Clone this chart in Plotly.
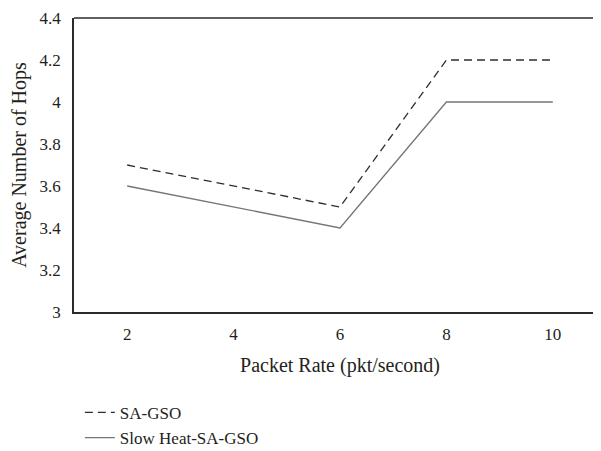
import plotly.graph_objects as go

packet_rate = [2, 4, 6, 8, 10]
sa_gso = [3.7, 3.6, 3.5, 4.2, 4.2]
slow_heat_sa_gso = [3.6, 3.5, 3.4, 4.0, 4.0]
y_ticks = [3, 3.2, 3.4, 3.6, 3.8, 4, 4.2, 4.4]
y_tick_labels = ["3", "3.2", "3.4", "3.6", "3.8", "4", "4.2", "4.4"]

FONT = "Liberation Serif, DejaVu Serif, serif"

fig = go.Figure()
fig.add_trace(go.Scatter(x=packet_rate, y=sa_gso, mode="lines", name="SA-GSO",
                         line=dict(color="#2e2e2e", width=1.3, dash="8px,5px")))
fig.add_trace(go.Scatter(x=packet_rate, y=slow_heat_sa_gso, mode="lines", name="Slow Heat-SA-GSO",
                         line=dict(color="#757575", width=1.3)))

fig.add_shape(type="line", xref="paper", yref="paper", x0=0, x1=1, y0=1, y1=1,
              line=dict(color="#2b2b2b", width=1.5))

fig.update_layout(
    width=601, height=451,
    margin=dict(l=66, r=3, t=10, b=147, autoexpand=False),
    paper_bgcolor="white", plot_bgcolor="white",
    font=dict(family=FONT, size=17, color="#231f20"),
    xaxis=dict(range=[1, 11], tickvals=packet_rate, ticks="", showgrid=False, zeroline=False,
               showline=True, linecolor="#2b2b2b", linewidth=1.5,
               ticklabelstandoff=6, ticklabeloverflow="allow",
               title=dict(text="Packet Rate (pkt/second)", standoff=15)),
    yaxis=dict(range=[3, 4.4], tickvals=y_ticks, ticktext=y_tick_labels, ticks="", showgrid=False,
               zeroline=False, showline=True, linecolor="#2b2b2b", linewidth=1.5,
               ticklabelstandoff=8, automargin=False, ticklabeloverflow="allow",
               title=dict(text="Average Number of Hops", standoff=15)),
    legend=dict(x=0.011, y=-0.282, xanchor="left", yanchor="top", orientation="v",
                itemwidth=30, tracegroupgap=0, bgcolor="rgba(0,0,0,0)"),
    showlegend=True,
)

fig.write_html("out.html")
